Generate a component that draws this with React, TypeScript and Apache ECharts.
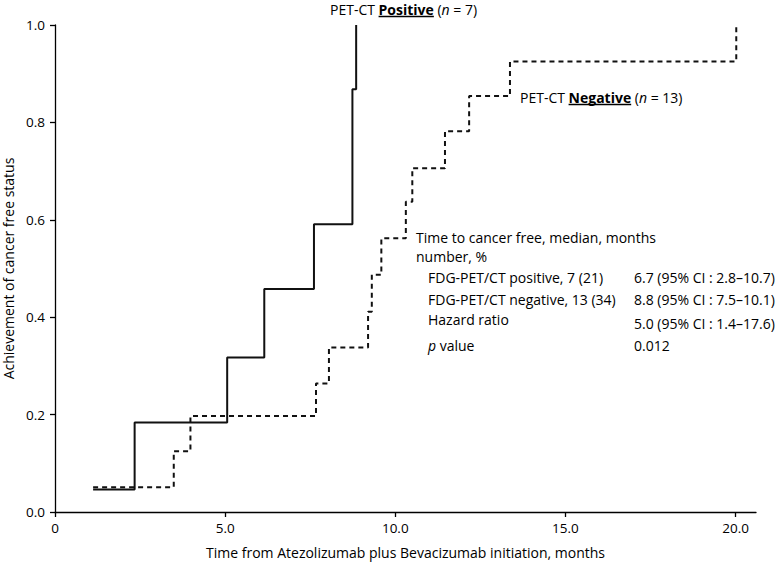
import React, { useEffect, useRef } from "react";
import * as echarts from "echarts";

// ---- data ----
const positiveTimes = [1.12, 2.34, 5.06, 6.15, 7.61, 8.74, 8.85];
const positiveValues = [0.046, 0.184, 0.317, 0.458, 0.591, 0.868, 1.0];
const negativeTimes = [1.12, 3.49, 3.98, 7.67, 8.05, 9.2, 9.31, 9.59, 10.31, 10.5, 11.46, 12.17, 13.37, 20.02];
const negativeValues = [0.051, 0.125, 0.197, 0.264, 0.338, 0.411, 0.487, 0.562, 0.637, 0.706, 0.782, 0.854, 0.925, 1.0];
const xTickValues = [0, 5, 10, 15, 20];
const yTickValues = [0, 0.2, 0.4, 0.6, 0.8, 1.0];
const tableHeader = ["Time to cancer free, median, months", "number, %"];
const tableLabels = ["FDG-PET/CT positive, 7 (21)", "FDG-PET/CT negative, 13 (34)", "Hazard ratio", "p value"];
const tableValues = ["6.7 (95% CI : 2.8\u201310.7)", "8.8 (95% CI : 7.5\u201310.1)", "5.0 (95% CI : 1.4\u201317.6)", "0.012"];

const FONT = "'Open Sans', 'Noto Sans', sans-serif";
const FS = 14;
const TICK_FS = 13.5;
const INK = "#000";

function measure(text: string, weight = "normal", style = "normal", size = FS) {
  const ctx = document.createElement("canvas").getContext("2d");
  if (!ctx) return text.length * size * 0.55;
  ctx.font = `${style} ${weight} ${size}px ${FONT}`;
  return ctx.measureText(text).width;
}

function groupLabel(x: number, y: number, word: string, n: string) {
  const pre = "PET-CT ";
  const preW = measure(pre);
  const wordW = measure(word, "bold");
  return [
    {
      type: "text",
      x,
      y,
      style: {
        text: `${pre}{b|${word}} ({i|n} = ${n})`,
        fontFamily: FONT,
        fontSize: FS,
        fill: INK,
        verticalAlign: "middle",
        rich: {
          b: { fontFamily: FONT, fontSize: FS, fontWeight: "bold", fill: INK },
          i: { fontFamily: FONT, fontSize: FS, fontStyle: "italic", fill: INK },
        },
      },
    },
    {
      type: "line",
      shape: { x1: x + preW, y1: y + 7.5, x2: x + preW + wordW, y2: y + 7.5 },
      style: { stroke: INK, lineWidth: 1.3 },
    },
  ];
}

export default function App() {
  const ref = useRef<HTMLDivElement>(null);
  useEffect(() => {
    if (!ref.current) return;
    const chart = echarts.init(ref.current, undefined, { renderer: "svg" });
    const labelRowsY = [277, 299, 319, 345];
    const valueRowsY = [277, 299, 323, 345];
    const txt = (text: string, x: number, y: number) => ({
      type: "text",
      x,
      y,
      style: { text, fontFamily: FONT, fontSize: FS, fill: INK, verticalAlign: "middle" },
    });
    const graphic: any[] = [
      ...groupLabel(330, 9, "Positive", "7"),
      ...groupLabel(520, 97, "Negative", "13"),
      txt(tableHeader[0], 416, 237),
      txt(tableHeader[1], 416, 256),
      ...tableLabels.map((t, i) =>
        i === 3
          ? {
              type: "text",
              x: 428,
              y: labelRowsY[i],
              style: {
                text: "{i|p} value",
                fontFamily: FONT,
                fontSize: FS,
                fill: INK,
                verticalAlign: "middle",
                rich: { i: { fontFamily: FONT, fontSize: FS, fontStyle: "italic", fill: INK } },
              },
            }
          : txt(t, 428, labelRowsY[i])
      ),
      ...tableValues.map((t, i) => txt(t, 634, valueRowsY[i])),
    ];

    chart.setOption({
      animation: false,
      textStyle: { fontFamily: FONT },
      grid: { left: 55, right: 25, top: 25, bottom: 53, containLabel: false, outerBoundsMode: "none" },
      xAxis: {
        type: "value",
        min: 0,
        max: 20.6,
        interval: 5,
        name: "Time from Atezolizumab plus Bevacizumab initiation, months",
        nameLocation: "middle",
        nameGap: 33,
        nameTextStyle: { fontFamily: FONT, fontSize: FS, color: INK },
        splitLine: { show: false },
        axisLine: { lineStyle: { color: INK, width: 1.3 } },
        axisTick: { show: true, length: 5, customValues: xTickValues, lineStyle: { color: INK, width: 1.3 } },
        axisLabel: {
          customValues: xTickValues,
          margin: 9,
          fontFamily: FONT,
          fontSize: TICK_FS,
          color: INK,
          formatter: (v: number) => (v === 0 ? "0" : v.toFixed(1)),
        },
      },
      yAxis: {
        type: "value",
        min: 0,
        max: 1,
        interval: 0.2,
        name: "Achievement of cancer free status",
        nameLocation: "middle",
        nameGap: 34,
        nameTextStyle: { fontFamily: FONT, fontSize: FS, color: INK },
        splitLine: { show: false },
        axisLine: { show: true, lineStyle: { color: INK, width: 1.3 } },
        axisTick: { show: true, length: 5, customValues: yTickValues, lineStyle: { color: INK, width: 1.3 } },
        axisLabel: {
          customValues: yTickValues,
          margin: 10,
          fontFamily: FONT,
          fontSize: TICK_FS,
          color: INK,
          formatter: (v: number) => v.toFixed(1),
        },
      },
      series: [
        {
          name: "PET-CT Positive",
          type: "line",
          step: "end",
          showSymbol: false,
          data: positiveTimes.map((t, i) => [t, positiveValues[i]]),
          lineStyle: { color: "#111", width: 2 },
        },
        {
          name: "PET-CT Negative",
          type: "line",
          step: "end",
          showSymbol: false,
          data: negativeTimes.map((t, i) => [t, negativeValues[i]]),
          lineStyle: { color: "#111", width: 2, type: [5, 4] },
        },
      ],
      graphic,
    });
    return () => chart.dispose();
  }, []);
  return <div ref={ref} style={{ width: 781, height: 565, position: "absolute", left: 0, top: 0 }} />;
}
